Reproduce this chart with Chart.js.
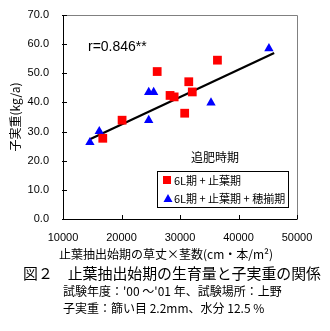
<!DOCTYPE html>
<html><head><meta charset="utf-8">
<script src="https://cdn.jsdelivr.net/npm/chart.js@4.4.1/dist/chart.umd.min.js"></script>
<style>html,body{margin:0;padding:0;background:#fff;}#wrap{width:330px;height:331px;position:relative;}</style>
</head><body><div id="wrap"><canvas id="c" width="330" height="331"></canvas></div>
<script>
// ---- data ----
const seriesLabels = ["6L期 + 止葉期", "6L期 + 止葉期 + 穂揃期"];
const redX = [16800, 20100, 26100, 28300, 29000, 30800, 31500, 32100, 36400];
const redY = [27.7, 33.9, 50.6, 42.4, 41.9, 36.3, 47.1, 43.6, 54.5];
const blueX = [14600, 16200, 24650, 24650, 25500, 35300, 45200];
const blueY = [26.3, 30.1, 33.9, 43.5, 43.5, 39.9, 58.5];
const trendX = [14600, 46100];
const trendY = [27.4, 57.0];
const xTicks = [10000, 20000, 30000, 40000, 50000];
const yTicks = [0, 10, 20, 30, 40, 50, 60, 70];
const yTitle = "子実重(kg/a)";
const xTitle = "止葉抽出始期の草丈×茎数(cm・本/m²)";
const rText = "r=0.846**";
const legendTitle = "追肥時期";
const caption1 = "図２　止葉抽出始期の生育量と子実重の関係";
const caption2 = "試験年度：'00 ～'01 年、試験場所：上野";
const caption3 = "子実重：篩い目 2.2mm、水分 12.5 %";

const zip = (xs, ys) => xs.map((x, i) => ({x: x, y: ys[i]}));
const JP = '"Noto Sans CJK JP", sans-serif';
const LAT = '"Liberation Sans", Arial, sans-serif';

const deco = {
  id: 'deco',
  afterDraw(chart) {
    const ctx = chart.ctx, a = chart.chartArea;
    const xs = chart.scales.x, ys = chart.scales.y;
    ctx.save();
    // frame
    ctx.lineWidth = 1;
    ctx.strokeStyle = '#808080';
    ctx.beginPath();
    ctx.moveTo(a.left, a.top + 0.5); ctx.lineTo(a.right + 0.5, a.top + 0.5); ctx.lineTo(a.right + 0.5, a.bottom);
    ctx.stroke();
    ctx.strokeStyle = '#000';
    ctx.beginPath();
    ctx.moveTo(a.left + 0.5, a.top); ctx.lineTo(a.left + 0.5, a.bottom + 0.5); ctx.lineTo(a.right + 0.5, a.bottom + 0.5);
    ctx.stroke();
    // ticks
    ctx.beginPath();
    yTicks.forEach(v => { const y = Math.round(ys.getPixelForValue(v)) + 0.5; ctx.moveTo(a.left - 1, y); ctx.lineTo(a.left + 4, y); });
    xTicks.forEach(v => { const x = Math.round(xs.getPixelForValue(v)) + 0.5; ctx.moveTo(x, a.bottom); ctx.lineTo(x, a.bottom - 4); });
    ctx.stroke();
    // r text
    ctx.fillStyle = '#000';
    ctx.textBaseline = 'middle';
    ctx.textAlign = 'left';
    ctx.font = '14px ' + LAT;
    ctx.fillText(rText, 88, 47);
    // legend
    ctx.font = '12px ' + JP;
    ctx.textAlign = 'center';
    ctx.fillText(legendTitle, 215, 157);
    ctx.fillStyle = '#fff';
    ctx.fillRect(157.5, 171.5, 131, 36);
    ctx.strokeStyle = '#000';
    ctx.strokeRect(157.5, 171.5, 131, 36);
    ctx.fillStyle = '#FF0000';
    ctx.fillRect(163, 176, 8, 8);
    ctx.fillStyle = '#0000FF';
    ctx.beginPath(); ctx.moveTo(168, 194); ctx.lineTo(172.5, 202); ctx.lineTo(163.5, 202); ctx.closePath(); ctx.fill();
    ctx.fillStyle = '#000';
    ctx.textAlign = 'left';
    ctx.font = '11px ' + JP;
    ctx.fillText(seriesLabels[0], 174, 180.5);
    ctx.fillText(seriesLabels[1], 174, 198.5, 112);
    // x title
    ctx.font = '12px ' + JP;
    ctx.textAlign = 'center';
    ctx.fillText(xTitle, 166, 254, 236);
    // captions
    ctx.textAlign = 'left';
    ctx.font = '15px ' + JP;
    ctx.fillText(caption1, 23, 273, 298);
    ctx.font = '12px ' + JP;
    ctx.fillText(caption2, 63, 291, 232);
    ctx.fillText(caption3, 63, 308, 212);
    ctx.restore();
  }
};

new Chart(document.getElementById('c'), {
  data: {
    datasets: [
      {type: 'scatter', label: seriesLabels[0], data: zip(redX, redY), pointStyle: 'rect', pointRadius: 6.2, backgroundColor: '#FF0000', borderColor: '#FF0000', borderWidth: 0, order: 1},
      {type: 'scatter', label: seriesLabels[1], data: zip(blueX, blueY), pointStyle: 'triangle', pointRadius: 5.4, backgroundColor: '#0000FF', borderColor: '#0000FF', borderWidth: 0, order: 1},
      {type: 'line', label: 'trend', data: zip(trendX, trendY), borderColor: '#000', borderWidth: 2.2, pointRadius: 0, fill: false, order: 2}
    ]
  },
  options: {
    responsive: false, animation: false, events: [],
    layout: {padding: {left: 0, right: 33, top: 15, bottom: 82}},
    plugins: {legend: {display: false}, tooltip: {enabled: false}, title: {display: false}},
    scales: {
      x: {
        type: 'linear', min: 10000, max: 50000,
        afterBuildTicks: s => { s.ticks = xTicks.map(v => ({value: v})); },
        afterFit: s => { s.height = 30; },
        grid: {display: false, drawTicks: false}, border: {display: false},
        ticks: {padding: 12, color: '#000', font: {family: LAT, size: 11}, maxRotation: 0, autoSkip: false, callback: v => String(v)}
      },
      y: {
        min: 0, max: 70,
        afterBuildTicks: s => { s.ticks = yTicks.map(v => ({value: v})); },
        afterFit: s => { s.width = 63; s.paddingTop = 0; s.paddingBottom = 0; },
        grid: {display: false, drawTicks: false}, border: {display: false},
        title: {display: true, text: yTitle, color: '#000', font: {family: JP, size: 12}, padding: {top: 8, bottom: 0}},
        ticks: {padding: 14, color: '#000', font: {family: LAT, size: 11, lineHeight: 0.5}, autoSkip: false, callback: v => Number(v).toFixed(1)}
      }
    }
  },
  plugins: [deco]
});
</script></body></html>
